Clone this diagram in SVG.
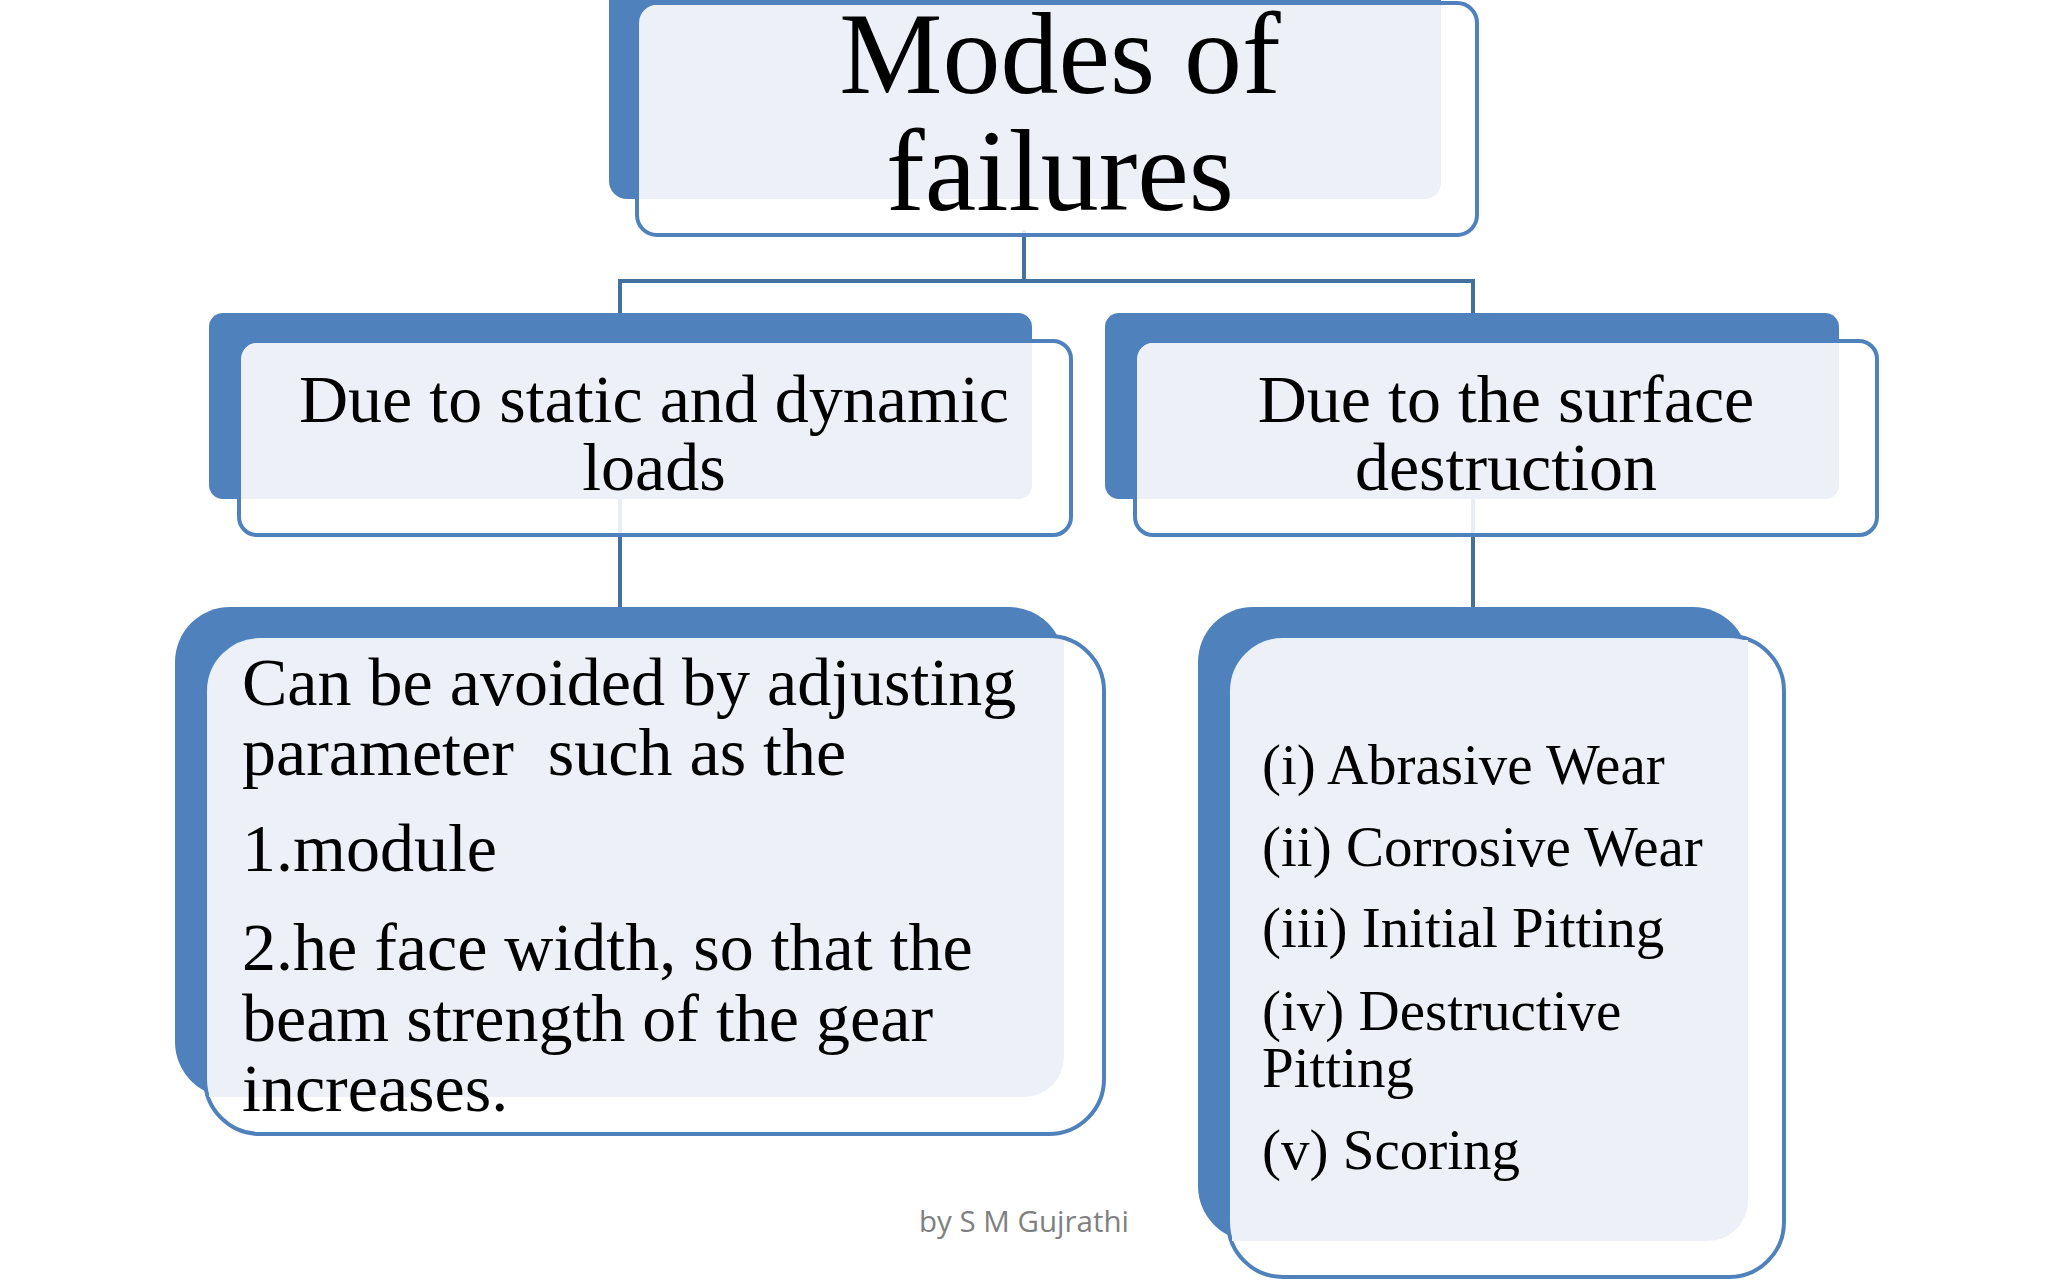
<svg xmlns="http://www.w3.org/2000/svg" width="2048" height="1280" viewBox="0 0 2048 1280">
<style>
.back{fill:#4f81bd;}
.outline{fill:#ffffff;fill-opacity:0.88;stroke:#4f81bd;stroke-width:4;}
.panel{fill:#edf1f7;}
.conn{fill:none;stroke:#41719c;stroke-width:4;}
.t{font-family:"Liberation Serif","Times New Roman",serif;fill:#000;}
.credit{font-family:"Open Sans","Liberation Sans",sans-serif;fill:#808080;font-size:29.5px;}
</style>
<rect width="2048" height="1280" fill="#ffffff"/>
<g id="connectors">
  <path class="conn" d="M1024 230 V281 M620 281 H1473 M620 279 V320 M1473 279 V320"/>
  <path class="conn" d="M620 495 V612"/>
  <path class="conn" d="M1473 495 V612"/>
</g>
<g id="node-modes">
  <rect class="back" x="609" y="-30" width="832" height="229" rx="18"/>
  <rect class="outline" x="637" y="3" width="840" height="232" rx="20"/>
  <path class="panel" d="M657 5 H1441 V183 A16 16 0 0 1 1425 199 H640 V22 A17 17 0 0 1 657 5 Z"/>
  <text class="t" font-size="116" text-anchor="middle" x="1060" y="93">Modes of</text>
  <text class="t" font-size="116" text-anchor="middle" x="1060" y="210">failures</text>
</g>
<g id="node-static">
  <rect class="back" x="209" y="313" width="823" height="186" rx="14"/>
  <rect class="outline" x="239" y="341" width="832" height="194" rx="18"/>
  <path class="panel" d="M257 343 H1032 V485 A14 14 0 0 1 1018 499 H242 V358 A15 15 0 0 1 257 343 Z"/>
  <text class="t" font-size="68" text-anchor="middle" x="654" y="422">Due to static and dynamic</text>
  <text class="t" font-size="68" text-anchor="middle" x="654" y="490">loads</text>
</g>
<g id="node-surface">
  <rect class="back" x="1105" y="313" width="734" height="186" rx="14"/>
  <rect class="outline" x="1135" y="341" width="742" height="194" rx="18"/>
  <path class="panel" d="M1153 343 H1839 V485 A14 14 0 0 1 1825 499 H1138 V358 A15 15 0 0 1 1153 343 Z"/>
  <text class="t" font-size="68" text-anchor="middle" x="1506" y="422">Due to the surface</text>
  <text class="t" font-size="68" text-anchor="middle" x="1506" y="490">destruction</text>
</g>
<g id="node-avoid">
  <rect class="back" x="175" y="607" width="889" height="490" rx="55"/>
  <rect class="outline" x="205" y="636" width="899" height="498" rx="55"/>
  <path class="panel" d="M259 640 H1064 V1057 A40 40 0 0 1 1024 1097 H209 V690 A50 50 0 0 1 259 640 Z"/>
  <text class="t" font-size="68" x="242" y="705">Can be avoided by adjusting</text>
  <text class="t" font-size="68" x="242" y="775" xml:space="preserve">parameter  such as the</text>
  <text class="t" font-size="68" x="242" y="871">1.module</text>
  <text class="t" font-size="68" x="242" y="970">2.he face width, so that the</text>
  <text class="t" font-size="68" x="242" y="1041">beam strength of the gear</text>
  <text class="t" font-size="68" x="242" y="1111">increases.</text>
</g>
<g id="node-wear">
  <rect class="back" x="1198" y="607" width="550" height="634" rx="55"/>
  <rect class="outline" x="1228" y="636" width="556" height="641" rx="55"/>
  <path class="panel" d="M1282 640 H1748 V1201 A40 40 0 0 1 1708 1241 H1232 V690 A50 50 0 0 1 1282 640 Z"/>
  <text class="t" font-size="57" x="1262" y="784">(i) Abrasive Wear</text>
  <text class="t" font-size="57" x="1262" y="866">(ii) Corrosive Wear</text>
  <text class="t" font-size="57" x="1262" y="947">(iii) Initial Pitting</text>
  <text class="t" font-size="57" x="1262" y="1030">(iv) Destructive</text>
  <text class="t" font-size="57" x="1262" y="1087">Pitting</text>
  <text class="t" font-size="57" x="1262" y="1169">(v) Scoring</text>
</g>
<text class="credit" x="1024" y="1232" text-anchor="middle">by S M Gujrathi</text>
</svg>
